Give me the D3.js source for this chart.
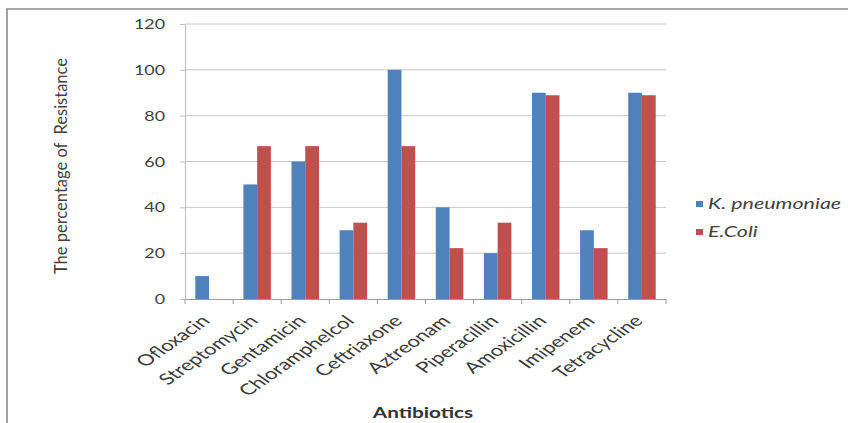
<!DOCTYPE html>
<html>
<head>
<meta charset="utf-8">
<script src="https://cdn.jsdelivr.net/npm/d3@7"></script>
<style>
  html, body { margin: 0; padding: 0; background: #fff; }
  svg { display: block; }
  text { font-family: Lato, "Open Sans", sans-serif; fill: #404040; }
</style>
</head>
<body>
<svg id="chart" width="848" height="423"></svg>
<script>
// Antibiotic resistance (%) per isolate
const categories = ["Ofloxacin", "Streptomycin", "Gentamicin", "Chloramphelcol", "Ceftriaxone",
                    "Aztreonam", "Piperacillin", "Amoxicillin", "Imipenem", "Tetracycline"];
const seriesNames = ["K. pneumoniae", "E.Coli"];
const kPneumoniae = [10, 50, 60, 30, 100, 40, 20, 90, 30, 90];
const eColi       = [0, 66.7, 66.7, 33.3, 66.7, 22.2, 33.3, 88.9, 22.2, 88.9];
const yTicks = [0, 20, 40, 60, 80, 100, 120];

const colors = ["#4F81BD", "#C0504D"];
const SX = 1.43;            // horizontal glyph stretch used by the labels

const svg = d3.select("#chart");
const plot = { left: 185, right: 666, top: 24, bottom: 299 };

// outer chart frame
svg.append("path")
  .attr("d", "M7,423 V9 H848")
  .attr("fill", "none").attr("stroke", "#8a8a8a").attr("stroke-width", 1.6);

const x = d3.scaleBand().domain(categories).range([plot.left, plot.right]).padding(0);
const xs = d3.scaleBand().domain(seriesNames).range([0, x.bandwidth()])
  .paddingInner(0).paddingOuter(0.75);
const y = d3.scaleLinear().domain([0, 120]).range([plot.bottom, plot.top]);

// horizontal gridlines
svg.append("g").selectAll("line")
  .data(yTicks.filter(d => d > 0))
  .join("line")
  .attr("x1", plot.left).attr("x2", plot.right)
  .attr("y1", d => y(d)).attr("y2", d => y(d))
  .attr("stroke", "#c6c6c6").attr("stroke-width", 1);

// value axis
const yAxis = svg.append("g")
  .attr("transform", `translate(${plot.left},0)`)
  .call(d3.axisLeft(y).tickValues(yTicks).tickSize(5).tickSizeOuter(0));
yAxis.select(".domain").attr("stroke", "#bdbdbd");
yAxis.selectAll(".tick line").attr("stroke", "#bdbdbd");
yAxis.selectAll(".tick text")
  .attr("x", 0).attr("dy", "0.36em")
  .attr("transform", `translate(-20,0) scale(${SX},1)`)
  .style("font-size", "12.5px").style("fill", "#404040");

// bars
const data = categories.map((c, i) => ({ c, vals: [kPneumoniae[i], eColi[i]] }));
const groups = svg.append("g").selectAll("g")
  .data(data).join("g")
  .attr("transform", d => `translate(${x(d.c)},0)`);
groups.selectAll("rect")
  .data(d => d.vals.map((v, k) => ({ name: seriesNames[k], v, k })))
  .join("rect")
  .attr("x", d => xs(d.name))
  .attr("width", xs.bandwidth())
  .attr("y", d => y(d.v))
  .attr("height", d => y(0) - y(d.v))
  .attr("fill", d => colors[d.k]);

// category axis: line with tick marks at category boundaries
const xAxis = svg.append("g")
  .attr("transform", `translate(0,${plot.bottom})`)
  .call(d3.axisBottom(x).tickSize(0).tickSizeOuter(0));
xAxis.select(".domain").attr("stroke", "#9a9a9a");
xAxis.selectAll(".tick text")
  .attr("text-anchor", "end")
  .attr("y", 0).attr("dy", 0)
  .attr("transform", `translate(2,23) scale(${SX},1) rotate(-45)`)
  .style("font-size", "15.5px").style("fill", "#3a3a3a");
svg.append("g").selectAll("line")
  .data(categories.map(c => x(c)).concat([plot.right]))
  .join("line")
  .attr("x1", d => d).attr("x2", d => d)
  .attr("y1", plot.bottom).attr("y2", plot.bottom + 5)
  .attr("stroke", "#9a9a9a");

// axis titles
svg.append("text")
  .attr("transform", "translate(67,166) rotate(-90)")
  .attr("text-anchor", "middle")
  .style("font-size", "16.5px")
  .style("white-space", "pre")
  .text("The percentage of  Resistance");
svg.append("text")
  .attr("transform", `translate(423,418) scale(${SX},1)`)
  .attr("text-anchor", "middle")
  .style("font-size", "14.5px").style("font-weight", "bold").style("fill", "#333")
  .text("Antibiotics");

// legend
const legend = svg.append("g").selectAll("g")
  .data(seriesNames).join("g")
  .attr("transform", (d, i) => `translate(696,${204 + i * 28})`);
legend.append("rect")
  .attr("x", 0).attr("y", -3).attr("width", 7).attr("height", 6)
  .attr("fill", (d, i) => colors[i]);
legend.append("text")
  .attr("transform", `translate(12,0) scale(${SX},1)`)
  .attr("dy", "0.36em")
  .style("font-size", "15px").style("font-style", "italic")
  .text(d => d);
</script>
</body>
</html>
